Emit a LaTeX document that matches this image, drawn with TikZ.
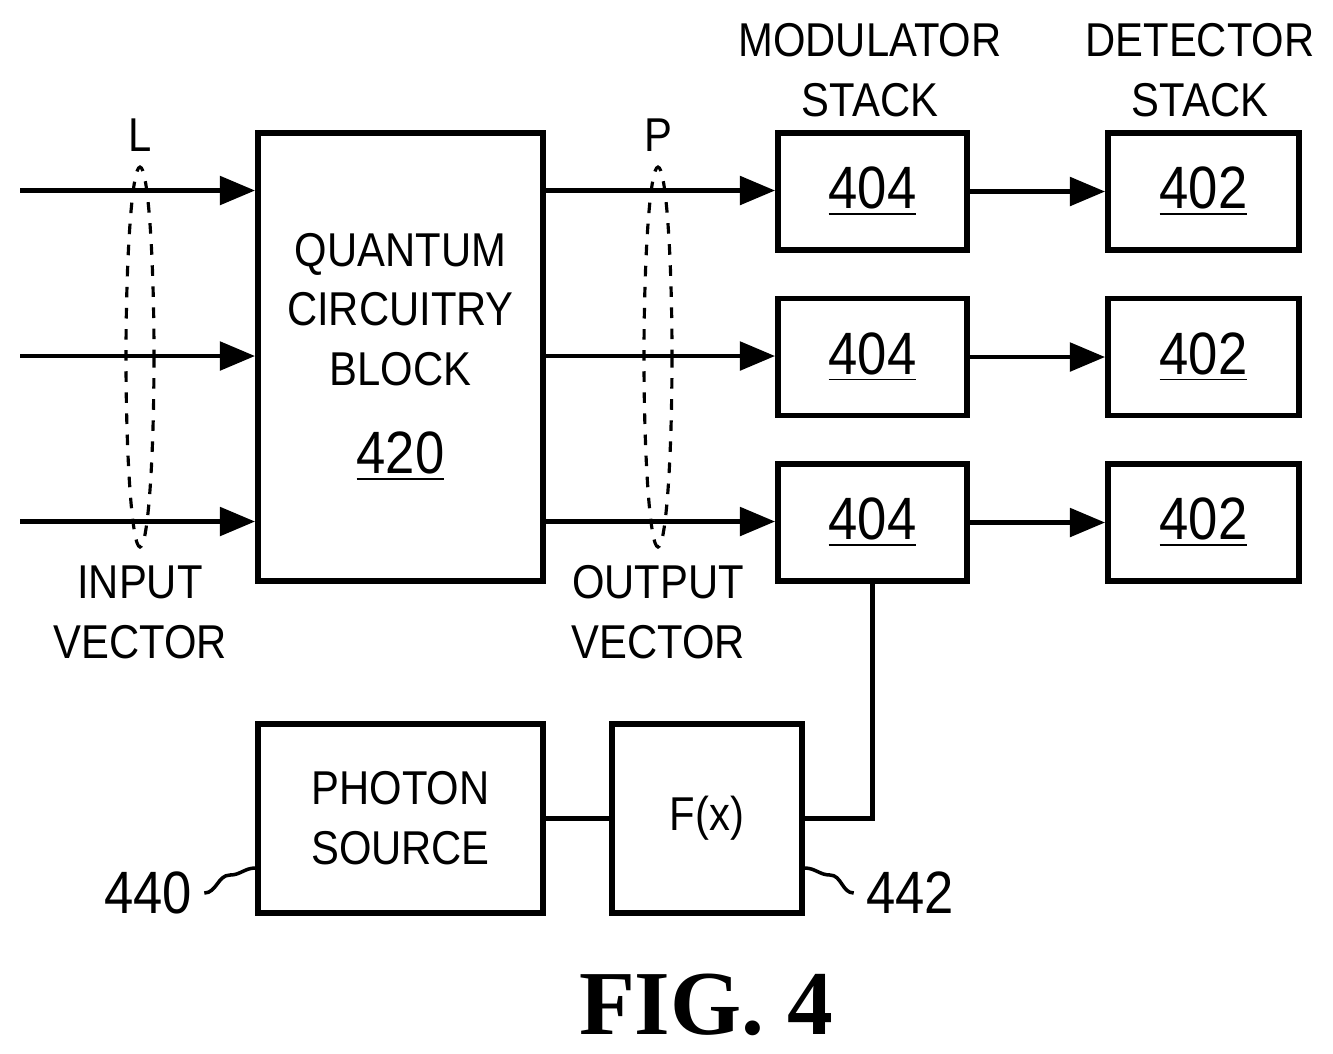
\documentclass[tikz,border=0pt]{standalone}
\usepackage{fontspec}
\setmainfont[FakeStretch=0.88]{Liberation Sans}
\newfontfamily\figfont{Liberation Serif}
\usetikzlibrary{arrows.meta, positioning}
\tikzset{
  blk/.style={draw, line width=1.6pt, inner sep=0pt, font=\fontsize{13.5}{17}\selectfont, align=center},
  lbl/.style={font=\fontsize{13.5}{17}\selectfont, align=center},
  num/.style={font=\fontsize{17}{19}\selectfont},
  sig/.style={line width=1.4pt, -{Triangle[length=10pt,width=8pt]}},
  wire/.style={line width=1.4pt},
  bundle/.style={dashed, line width=0.9pt}
}
\newcommand{\ul}[1]{\underline{#1}}
\begin{document}
\begin{tikzpicture}[x=0.01cm, y=-0.01cm]
    \useasboundingbox (0,0) rectangle (1333,1053);

    % Quantum circuitry block
    \node[blk, minimum width=2.85cm, minimum height=4.48cm] (qcb) at (400.5,357)
        {QUANTUM\\CIRCUITRY\\BLOCK\\[8pt]{\fontsize{17}{19}\selectfont\ul{420}}};

    % Modulator and detector stacks
    \foreach \r/\y in {1/191.5, 2/357, 3/522.5} {
        \node[blk, minimum width=1.89cm, minimum height=1.17cm, num] (mod\r) at (872.5,\y) {\ul{404}};
        \node[blk, minimum width=1.91cm, minimum height=1.17cm, num] (det\r) at (1203.5,\y) {\ul{402}};
        \coordinate (in\r) at (20,\y-1);
        \draw[sig] (in\r) -- (in\r -| qcb.west);
        \draw[sig] (in\r -| qcb.east) -- (in\r -| mod\r.west);
        \draw[sig] (mod\r) -- (det\r);
    }

    % Bundles
    \draw[bundle] (140,357) ellipse (14 and 190);
    \draw[bundle] (658,357) ellipse (14 and 190);
    \node[lbl] (L) at (140,135) {L};
    \node[lbl] (P) at (658,135) {P};
    \node[lbl] (invec) at (140,612) {INPUT\\VECTOR};
    \node[lbl] (outvec) at (658,612) {OUTPUT\\VECTOR};
    \node[lbl] (modlbl) at (870,70) {MODULATOR\\STACK};
    \node[lbl] (detlbl) at (1200,70) {DETECTOR\\STACK};

    % Photon source and F(x)
    \node[blk, minimum width=2.85cm, minimum height=1.89cm] (src) at (400.5,818.5) {PHOTON\\SOURCE};
    \node[blk, minimum width=1.90cm, minimum height=1.89cm] (fx) at (707,818.5) {F(x)};
    \draw[wire] (src) -- (fx);
    \draw[wire] (fx.east) -| (mod3.south);

    % Reference numerals
    \node[num] (n440) at (148,893) {440};
    \node[num] (n442) at (910,893) {442};
    \draw[line width=1pt] (n440.east) to[out=0,in=180] (230,875) to[out=0,in=180] (src.west |- 0,868);
    \draw[line width=1pt] (n442.west) to[out=180,in=0] (830,875) to[out=180,in=0] (fx.east |- 0,868);

    \node[font=\figfont\bfseries\fontsize{26}{30}\selectfont] (fig) at (706,1005) {FIG. 4};
\end{tikzpicture}
\end{document}
